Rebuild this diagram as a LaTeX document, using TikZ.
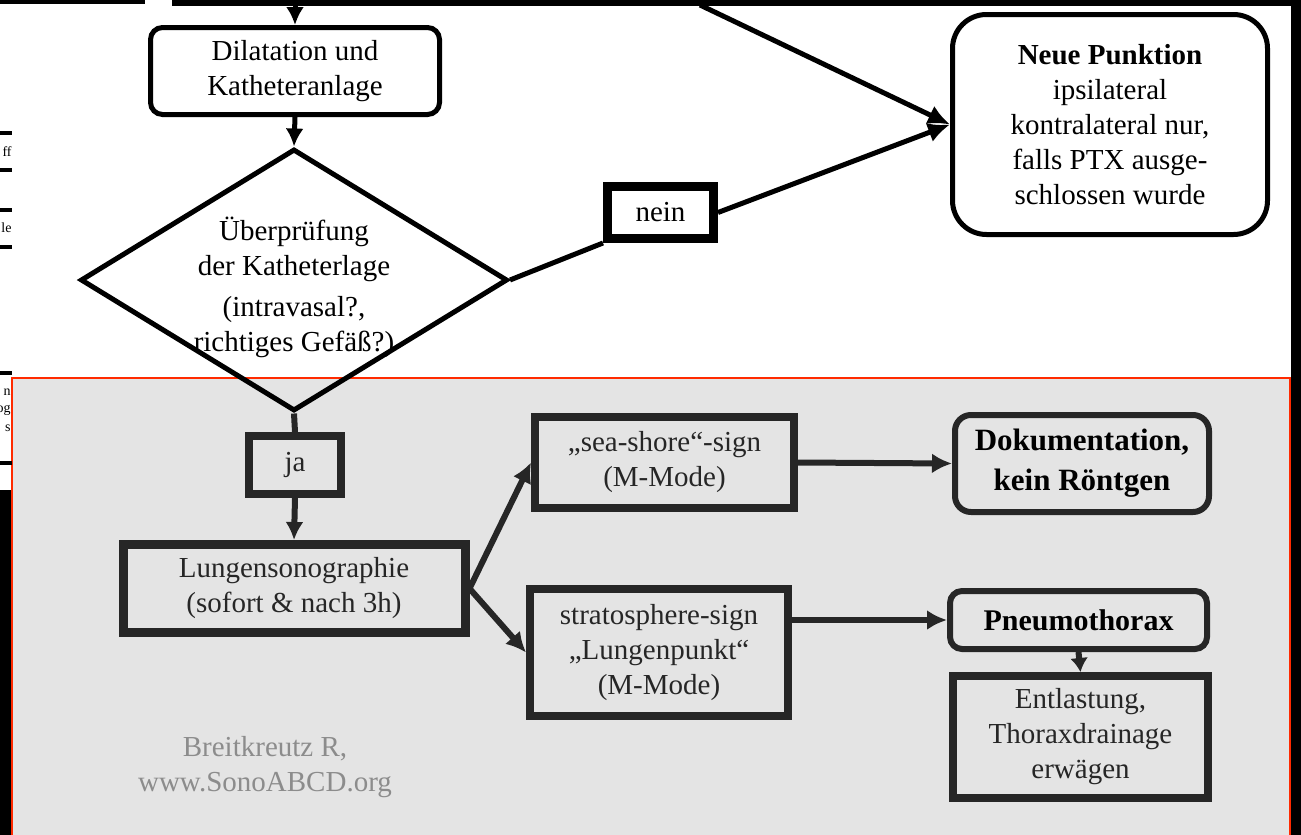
\documentclass[tikz,border=0pt]{standalone}
\usepackage{fontspec}
\setmainfont{Liberation Serif}
\usepackage{tikz}
\usetikzlibrary{shapes.geometric,arrows.meta,positioning,calc}
\definecolor{panel}{HTML}{E4E4E4}
\definecolor{frame}{HTML}{FF2A00}
\definecolor{ink}{HTML}{262626}
\definecolor{credit}{HTML}{8C8C8C}
\newcommand{\txt}{\fontsize{14.5}{17.5}\selectfont}
\newcommand{\bigtxt}{\fontsize{15.5}{20}\selectfont\bfseries}
\newcommand{\tinytxt}{\fontsize{7}{8}\selectfont}
\tikzstyle{rbox} = [draw,line width=2.5pt,rounded corners=6pt,fill=white,align=center,inner sep=0pt,font=\txt]
\tikzstyle{sbox} = [draw=ink,line width=4pt,align=center,inner sep=0pt,text=ink,font=\txt]
\tikzstyle{decision} = [diamond,draw,line width=2.5pt,inner sep=0pt]
\tikzstyle{frag} = [anchor=east,inner sep=0pt,font=\tinytxt]
\tikzset{>=latex}

\begin{document}
\begin{tikzpicture}[x=0.5pt,y=-0.5pt]
    \useasboundingbox (0,0) rectangle (1301,835);
    % background pieces of the screenshot
    \fill[panel] (12,378) rectangle (1290,840);
    \draw[frame,line width=0.75pt] (12,840) -- (12,378) -- (1290,378) -- (1290,840);
    \fill (0,0) rectangle (145,4);
    \fill (172,0) rectangle (1301,6);
    \fill (1291,0) rectangle (1301,835);
    \fill (0,490) rectangle (11,835);
    \foreach \y in {133,170,210,247,373,463}
      \fill (0,\y-2) rectangle (12,\y+2);
    \node [frag] at (12,152) {ff};
    \node [frag] at (12,228) {le};
    \node [frag] at (11,392) {n};
    \node [frag] at (11,410) {og};
    \node [frag] at (11,428) {s};

    % upper part
    \node [rbox,minimum width=144.5pt,minimum height=43.5pt] (dil) at (295,71)
      {Dilatation und\\Katheteranlage};
    \node [decision,minimum width=213.5pt,minimum height=131pt] (chk) at (294,280) {};
    \node [align=center,inner sep=0pt,font=\txt] (chktext) at (294,287)
      {Überprüfung\\der Katheterlage\\[3pt](intravasal?,\\richtiges Gefäß?)};
    \node [draw,line width=4.5pt,fill=white,inner sep=0pt,font=\txt,
      minimum width=53pt,minimum height=26pt] (nein) at (660.5,212.5) {nein};
    \node [rbox,rounded corners=17pt,minimum width=157.5pt,minimum height=110pt] (neue) at (1110,124.5)
      {\textbf{Neue Punktion}\\ipsilateral\\kontralateral nur,\\falls PTX ausge-\\schlossen wurde};
    \coordinate (top) at (295,5);
    \coordinate (topright) at (700,5);

    \draw [line width=2.5pt,-{Latex[length=9pt,width=9pt]}] (top) -- (dil.north);
    \draw [line width=2.5pt,-{Latex[length=9pt,width=9pt]}] (dil.south) -- (chk.north);
    \draw [line width=2.5pt,-{Latex[length=11pt,width=10pt]}] (topright) -- (neue.west);
    \draw [line width=2.5pt,-{Latex[length=11pt,width=10pt]}] (nein.east) -- (neue.west);
    \draw [line width=2.5pt] (chk.east) -- (nein.south west);

    % lower part
    \node [sbox,minimum width=46pt,minimum height=29pt] (ja) at (295,465) {ja};
    \node [sbox,line width=4.5pt,minimum width=171pt,minimum height=44pt] (lung) at (294,588.5)
      {Lungensonographie\\(sofort \& nach 3h)};
    \node [sbox,minimum width=129.5pt,minimum height=45.5pt] (sea) at (664.5,462.5)
      {„sea-shore“-sign\\(M-Mode)};
    \node [sbox,minimum width=129pt,minimum height=63.5pt] (strat) at (659,652.5)
      {stratosphere-sign\\„Lungenpunkt“\\(M-Mode)};
    \node [rbox,draw=ink,fill=none,line width=3pt,rounded corners=8pt,font=\bigtxt,
      minimum width=127pt,minimum height=48.5pt] (dok) at (1082,463.5)
      {Dokumentation,\\kein Röntgen};
    \node [rbox,draw=ink,fill=none,line width=3pt,font=\fontsize{15}{18}\selectfont\bfseries,
      minimum width=128.5pt,minimum height=29pt] (pneu) at (1078.5,620) {Pneumothorax};
    \node [sbox,minimum width=127.5pt,minimum height=61pt] (entl) at (1080.5,737)
      {Entlastung,\\Thoraxdrainage\\erwägen};
    \node [align=center,text=credit,inner sep=0pt,font=\txt] (credit) at (265,767)
      {Breitkreutz R,\\www.SonoABCD.org};

    \draw [ink,line width=3pt] (chk.south) -- (ja.north);
    \draw [ink,line width=3pt,-{Latex[length=9pt,width=9pt]}] (ja.south) -- (lung.north);
    \draw [ink,line width=3pt,-{Latex[length=10pt,width=10pt]}] (lung.east) -- (sea.west);
    \draw [ink,line width=3pt,-{Latex[length=10pt,width=10pt]}] (lung.east) -- (strat.west);
    \draw [ink,line width=3pt,-{Latex[length=10pt,width=10pt]}] (sea.east) -- (dok.west);
    \draw [ink,line width=3pt,-{Latex[length=10pt,width=10pt]}] (strat.east |- pneu.west) -- (pneu.west);
    \draw [ink,line width=3pt,-{Latex[length=7pt,width=9pt]}] (pneu.south) -- (entl.north);
  \end{tikzpicture}
\end{document}
